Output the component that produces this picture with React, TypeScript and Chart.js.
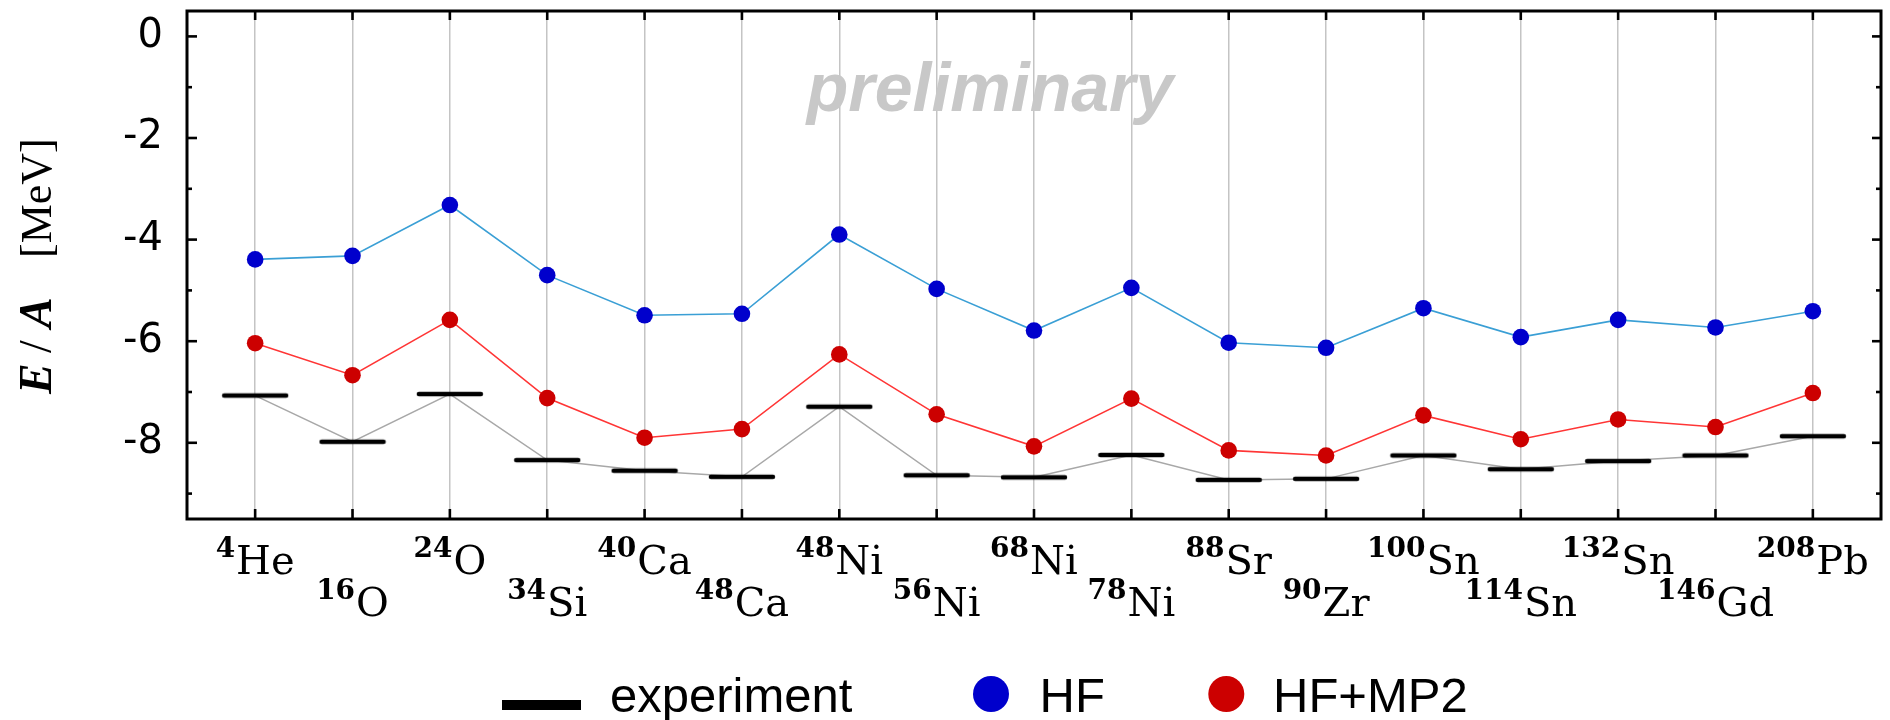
import React, { useEffect, useRef } from 'react';
import { Chart, registerables } from 'chart.js';

Chart.register(...registerables);

// ---- data ----
const massNumbers = ['4', '16', '24', '34', '40', '48', '48', '56', '68', '78', '88', '90', '100', '114', '132', '146', '208'];
const elements = ['He', 'O', 'O', 'Si', 'Ca', 'Ca', 'Ni', 'Ni', 'Ni', 'Ni', 'Sr', 'Zr', 'Sn', 'Sn', 'Sn', 'Gd', 'Pb'];
const experiment = [-7.07, -7.98, -7.04, -8.34, -8.55, -8.67, -7.29, -8.64, -8.68, -8.24, -8.73, -8.71, -8.25, -8.52, -8.36, -8.25, -7.87];
const hf = [-4.39, -4.32, -3.32, -4.70, -5.49, -5.46, -3.90, -4.97, -5.79, -4.95, -6.03, -6.13, -5.35, -5.92, -5.58, -5.73, -5.41];
const hfMp2 = [-6.04, -6.67, -5.58, -7.12, -7.90, -7.73, -6.26, -7.44, -8.07, -7.13, -8.15, -8.25, -7.46, -7.93, -7.54, -7.69, -7.02];
const yMajorTicks = [0, -2, -4, -6, -8];
const yMinorTicks = [-1, -3, -5, -7, -9];
const seriesNames = ['experiment', 'HF', 'HF+MP2'];
const yTitleParts = ['E', '/', 'A', '[MeV]'];
const watermarkText = 'preliminary';

const SANS = '"Liberation Sans", Arial, sans-serif';
const SERIF_LAB = '"DejaVu Serif", serif';
const SERIF = '"Liberation Serif", serif';

function makeBarImage(): HTMLCanvasElement {
  const c = document.createElement('canvas');
  c.width = 68;
  c.height = 8;
  const g = c.getContext('2d')!;
  g.strokeStyle = '#000';
  g.lineWidth = 4.5;
  g.lineCap = 'round';
  g.beginPath();
  g.moveTo(3, 4);
  g.lineTo(65, 4);
  g.stroke();
  return c;
}

const decorPlugin = {
  id: 'decor',
  beforeDatasetsDraw(chart: any) {
    const ctx = chart.ctx;
    ctx.save();
    ctx.font = `italic bold 68px ${SANS}`;
    ctx.fillStyle = '#c8c8c8';
    ctx.textAlign = 'center';
    ctx.textBaseline = 'alphabetic';
    ctx.fillText(watermarkText, 990, 111);
    ctx.restore();
  },
  afterDraw(chart: any) {
    const ctx = chart.ctx;
    const a = chart.chartArea;
    const xs = chart.scales.x;
    const ys = chart.scales.y;
    ctx.save();
    const line = (x1: number, y1: number, x2: number, y2: number) => {
      ctx.beginPath();
      ctx.moveTo(x1, y1);
      ctx.lineTo(x2, y2);
      ctx.stroke();
    };
    ctx.strokeStyle = '#000';
    ctx.lineWidth = 2.6;
    ctx.lineCap = 'butt';
    elements.forEach((_, i) => {
      const px = xs.getPixelForValue(i);
      line(px, a.bottom, px, a.bottom - 10);
      line(px, a.top, px, a.top + 9);
    });
    yMajorTicks.forEach((v) => {
      const py = ys.getPixelForValue(v);
      line(a.left, py, a.left + 10, py);
      line(a.right, py, a.right - 9, py);
    });
    yMinorTicks.forEach((v) => {
      const py = ys.getPixelForValue(v);
      line(a.left, py, a.left + 5, py);
      line(a.right, py, a.right - 5, py);
    });
    ctx.lineWidth = 3;
    ctx.strokeRect(a.left, a.top, a.right - a.left, a.bottom - a.top);

    // x category labels with superscript mass numbers
    ctx.fillStyle = '#000';
    ctx.textAlign = 'left';
    ctx.textBaseline = 'alphabetic';
    elements.forEach((el, i) => {
      const px = xs.getPixelForValue(i);
      const base = a.bottom + (i % 2 === 0 ? 55 : 97);
      ctx.font = `bold 28px ${SERIF_LAB}`;
      const sw = ctx.measureText(massNumbers[i]).width;
      ctx.font = `40px ${SERIF_LAB}`;
      const ew = ctx.measureText(el).width;
      const start = px - (sw + 1 + ew) / 2;
      ctx.font = `bold 28px ${SERIF_LAB}`;
      ctx.fillText(massNumbers[i], start, base - 17);
      ctx.font = `40px ${SERIF_LAB}`;
      ctx.fillText(el, start + sw + 1, base);
    });

    // y axis title
    ctx.save();
    ctx.translate(51, 267);
    ctx.rotate(-Math.PI / 2);
    const fonts = [`italic bold 46px ${SERIF}`, `46px ${SERIF}`, `italic bold 46px ${SERIF}`, `44px ${SERIF}`];
    const offsets = [0, 41, 66, 136];
    const startT = -127;
    yTitleParts.forEach((t, k) => {
      ctx.font = fonts[k];
      ctx.fillText(t, startT + offsets[k], 0);
    });
    ctx.restore();

    // legend
    const ds = chart.data.datasets;
    ctx.font = `49px ${SANS}`;
    ctx.fillStyle = '#000';
    ctx.fillRect(502, 700, 79, 10);
    ctx.fillText(seriesNames[0], 610, 711.5);
    ctx.fillStyle = ds[1].pointBackgroundColor;
    ctx.beginPath();
    ctx.arc(991, 694, 18, 0, Math.PI * 2);
    ctx.fill();
    ctx.fillStyle = '#000';
    ctx.fillText(seriesNames[1], 1039.5, 711.5);
    ctx.fillStyle = ds[2].pointBackgroundColor;
    ctx.beginPath();
    ctx.arc(1226.3, 694, 18, 0, Math.PI * 2);
    ctx.fill();
    ctx.fillStyle = '#000';
    ctx.fillText(seriesNames[2], 1273, 711.5);
    ctx.restore();
  },
};

export default function App() {
  const ref = useRef<HTMLCanvasElement | null>(null);
  useEffect(() => {
    if (!ref.current) return;
    const bar = makeBarImage();
    const toPts = (arr: number[]) => arr.map((v, i) => ({ x: i, y: v }));
    const chart = new Chart(ref.current, {
      type: 'line',
      data: {
        datasets: [
          {
            label: seriesNames[0],
            data: toPts(experiment),
            borderColor: '#a8a8a8',
            borderWidth: 1.5,
            pointStyle: bar as any,
            pointRadius: 5,
            pointBackgroundColor: '#000',
            tension: 0,
          },
          {
            label: seriesNames[1],
            data: toPts(hf),
            borderColor: '#3a9fd5',
            borderWidth: 1.6,
            pointRadius: 8.3,
            pointBorderWidth: 0,
            pointBackgroundColor: '#0000cc',
            pointBorderColor: '#0000cc',
            tension: 0,
          },
          {
            label: seriesNames[2],
            data: toPts(hfMp2),
            borderColor: '#ff3535',
            borderWidth: 1.6,
            pointRadius: 8.3,
            pointBorderWidth: 0,
            pointBackgroundColor: '#cc0000',
            pointBorderColor: '#cc0000',
            tension: 0,
          },
        ],
      },
      options: {
        responsive: false,
        animation: false,
        devicePixelRatio: 1,
        events: [],
        layout: { padding: { left: 0, right: 9, top: 11, bottom: 0 } },
        plugins: { legend: { display: false }, tooltip: { enabled: false }, title: { display: false } },
        scales: {
          x: {
            type: 'linear',
            min: -0.7,
            max: 16.7,
            afterBuildTicks: (s: any) => {
              s.ticks = elements.map((_, i) => ({ value: i }));
            },
            afterFit: (s: any) => {
              s.height = 201;
              s.paddingLeft = 0;
              s.paddingRight = 0;
            },
            ticks: { display: false },
            grid: { display: true, color: '#c4c4c4', lineWidth: 1.5, drawTicks: false },
            border: { display: false },
          },
          y: {
            type: 'linear',
            min: -9.5,
            max: 0.5,
            afterBuildTicks: (s: any) => {
              s.ticks = yMajorTicks.slice().reverse().map((v) => ({ value: v }));
            },
            afterFit: (s: any) => {
              s.width = 187;
              s.paddingTop = 0;
              s.paddingBottom = 0;
            },
            ticks: {
              color: '#000',
              padding: 24,
              font: { family: '"DejaVu Sans", sans-serif', size: 40 },
              callback: (v: any) => String(v),
            },
            grid: { display: false, drawTicks: false },
            border: { display: false },
          },
        },
      },
      plugins: [decorPlugin],
    } as any);
    return () => chart.destroy();
  }, []);
  return (
    <div style={{ position: 'absolute', left: 0, top: 0, width: 1890, height: 720, background: '#fff' }}>
      <canvas ref={ref} width={1890} height={720} style={{ width: 1890, height: 720, display: 'block' }} />
    </div>
  );
}
